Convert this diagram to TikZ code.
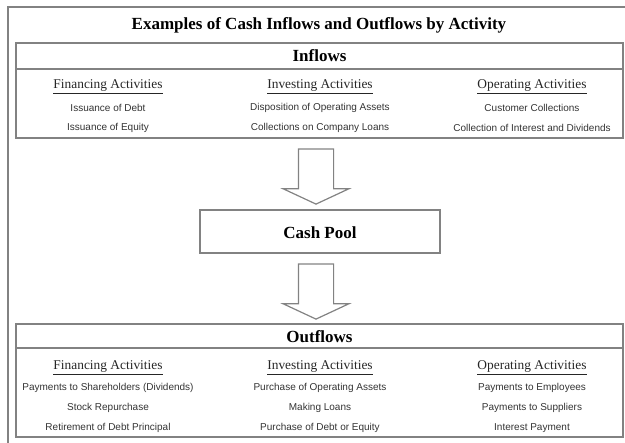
\documentclass[tikz,border=0pt]{standalone}
\usepackage{fontspec}
\setmainfont{Liberation Serif}
\setsansfont{Liberation Sans}
\usetikzlibrary{shapes.arrows,calc}
\definecolor{framegray}{RGB}{130,130,130}

\begin{document}
\begin{tikzpicture}[x=1pt,y=-1pt,
  panel/.style={draw=framegray,line width=1.4pt,inner sep=0pt},
  titletext/.style={font=\fontsize{17}{19}\selectfont\bfseries},
  headtext/.style={font=\fontsize{17}{19}\selectfont\bfseries},
  colhead/.style={font=\fontsize{13.4}{15}\selectfont,text=black!85},
  itemtext/.style={font=\sffamily\fontsize{10}{12}\selectfont,text=black!80},
  bigarrow/.style={draw=framegray,line width=1.2pt,single arrow,
    shape border rotate=270,minimum height=55,minimum width=65,
    single arrow head extend=15.5,single arrow tip angle=130,inner sep=17pt}]
\useasboundingbox (0,0) rectangle (625,443);
% Outer frame
\draw[framegray,line width=2.5pt] (8,7) rectangle (640,460);
\node[titletext] (title) at (319,25) {Examples of Cash Inflows and Outflows by Activity};

% Inflows
\node[panel,minimum width=607,minimum height=95] (inflows) at (319.5,90.5) {};
\draw[framegray,line width=1.4pt] (inflows.west |- 0,69) -- (inflows.east |- 0,69);
\node[headtext] (inhead) at (319.5,56) {Inflows};
\foreach \x/\name/\a/\b [count=\i] in {108/Financing/Issuance of Debt/Issuance of Equity,
    320/Investing/Disposition of Operating Assets/Collections on Company Loans,
    532/Operating/Customer Collections/Collection of Interest and Dividends} {
  \node[colhead] (incol\i) at (\x,87) {\underline{\name\ Activities}};
  \node[itemtext] (inA\i) at (\x,108) {\a};
  \node[itemtext] (inB\i) at (\x,128) {\b};
}

% Cash pool
\node[bigarrow] (arrowin) at (316,172.5) {};
\node[panel,minimum width=240,minimum height=43] (pool) at (320,231.5) {};
\node[headtext] (pooltext) at (320,233) {Cash Pool};
\node[bigarrow] (arrowout) at (316,287.5) {};

% Outflows
\node[panel,minimum width=607,minimum height=113] (outflows) at (319.5,380.5) {};
\draw[framegray,line width=1.4pt] (outflows.west |- 0,348) -- (outflows.east |- 0,348);
\node[headtext] (outhead) at (319.5,337) {Outflows};
\foreach \x/\name/\a/\b/\c [count=\i] in {108/Financing/Payments to Shareholders (Dividends)/Stock Repurchase/Retirement of Debt Principal,
    320/Investing/Purchase of Operating Assets/Making Loans/Purchase of Debt or Equity,
    532/Operating/Payments to Employees/Payments to Suppliers/Interest Payment} {
  \node[colhead] (outcol\i) at (\x,368) {\underline{\name\ Activities}};
  \node[itemtext] (outA\i) at (\x,388) {\a};
  \node[itemtext] (outB\i) at (\x,408) {\b};
  \node[itemtext] (outC\i) at (\x,428) {\c};
}
\end{tikzpicture}
\end{document}
